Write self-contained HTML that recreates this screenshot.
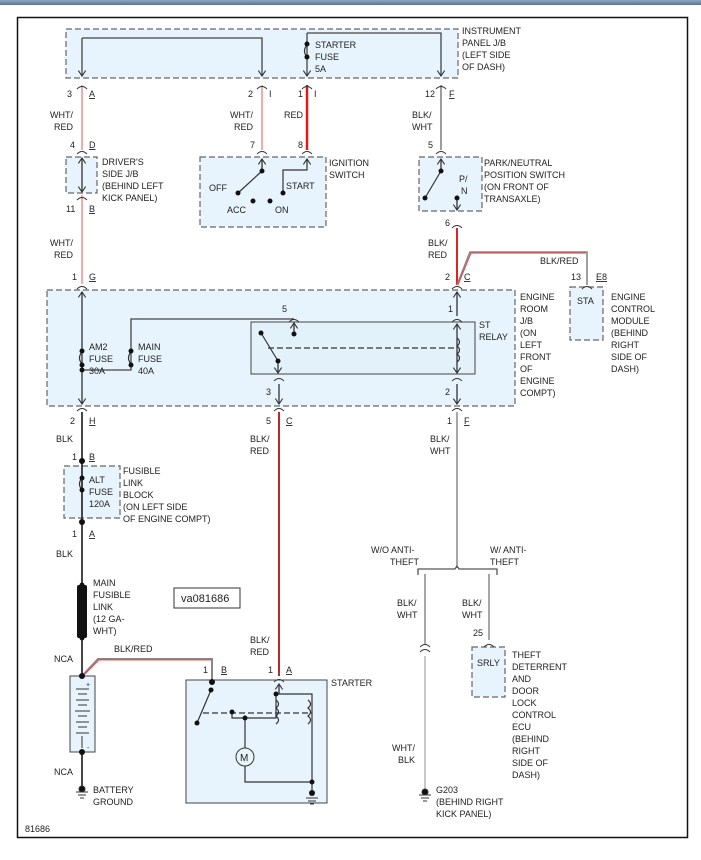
<!DOCTYPE html>
<html><head><style>
body{margin:0;background:#fff;}
svg{display:block;font-family:"Liberation Sans",sans-serif;}
text{font-size:9px;fill:#222;}
</style></head><body>
<svg width="701" height="860" viewBox="0 0 701 860" xmlns="http://www.w3.org/2000/svg">
<defs>
<linearGradient id="tb" x1="0" y1="0" x2="0" y2="1"><stop offset="0" stop-color="#8fa6c4"/><stop offset="1" stop-color="#5a7294"/></linearGradient>
<marker id="ar" viewBox="0 0 10 10" refX="9" refY="5" markerWidth="7" markerHeight="7" orient="auto-start-reverse"><path d="M3,1 L9,5 L3,9" fill="none" stroke="#333" stroke-width="1.2"/></marker>
</defs>
<rect x="0" y="0" width="701" height="5" fill="url(#tb)"/>
<rect x="17.5" y="17.5" width="670" height="820" fill="#fff" stroke="#111" stroke-width="1.5"/>
<g fill="#e8f4fd" stroke="#666" stroke-dasharray="6,3" stroke-width="1.2">
<rect x="66" y="29" width="392" height="49"/>
<rect x="66" y="157" width="31" height="36"/>
<rect x="200" y="157" width="126" height="70"/>
<rect x="419" y="157" width="63" height="54"/>
<rect x="47" y="290" width="468" height="116"/>
<rect x="570" y="287" width="33" height="53"/>
<rect x="64" y="466" width="56" height="52"/>
<rect x="472" y="647" width="33" height="50"/>
</g>
<rect x="251" y="322" width="224" height="52" fill="#e3f1fb" stroke="#444" stroke-width="1"/>
<rect x="186" y="680" width="141" height="123" fill="#e8f4fd" stroke="#444" stroke-width="1"/>
<rect x="70" y="676" width="25" height="76" fill="#e8f4fd" stroke="#444" stroke-width="1"/>
<rect x="174" y="588" width="66" height="20" fill="#fff" stroke="#333"/>
<text x="181" y="602" style="font-size:11px">va081686</text>

<g fill="none" stroke-width="1.3">
<path d="M82,38 H262 V76" stroke="#444" marker-end="url(#ar)"/>
<path d="M82,38 V76" stroke="#444" marker-end="url(#ar)"/>
<path d="M307,33 H441 V76" stroke="#444" marker-end="url(#ar)"/>
<path d="M307,33 V76" stroke="#444" marker-end="url(#ar)"/>
<path d="M82,85 V150" stroke="#f4a0a0" stroke-width="1.8"/>
<path d="M262,85 V150" stroke="#f4a0a0" stroke-width="1.8"/>
<path d="M307,85 V150" stroke="#e0181e" stroke-width="2.5"/>
<path d="M441,85 V150" stroke="#666"/>
<path d="M82,195 V284" stroke="#f4a0a0" stroke-width="1.8"/>
<path d="M82,158 V192" stroke="#333" marker-start="url(#ar)" marker-end="url(#ar)"/>
<path d="M457,228 V285" stroke="#d22" stroke-width="2"/>
<path d="M457,285 L470,252 H587 V285" stroke="#888" stroke-width="1.6"/>
<path d="M458,285 L471,253 H586" stroke="#e33" stroke-width="0.9"/>
<path d="M82,292 V404" stroke="#333" marker-start="url(#ar)" marker-end="url(#ar)"/>
<path d="M82,370 H131 V319 H293 V318" stroke="#444"/>
<path d="M457,292 V316" stroke="#333" marker-start="url(#ar)"/>
<path d="M457,324 V373" stroke="#333" marker-start="url(#ar)" marker-end="url(#ar)"/>
<path d="M457,384 V404" stroke="#333" marker-end="url(#ar)"/>
<path d="M278,361 V373" stroke="#333" marker-end="url(#ar)"/>
<path d="M279,384 V404" stroke="#333" marker-end="url(#ar)"/>
<path d="M294,323 V334" stroke="#333" marker-start="url(#ar)"/>
<path d="M82,412 V585 M82,638 V676 M82,752 V786" stroke="#333" stroke-width="1.8"/>
<path d="M279,412 V676" stroke="#e0181e" stroke-width="2"/>
<path d="M279,412 V676" stroke="#555" stroke-width="0.6"/>
<path d="M457,412 V568" stroke="#777"/>
<path d="M418,575 V569 H455 L457,566 L459,569 H497 V575" stroke="#555"/>
<path d="M425,574 V644 M489,574 V640" stroke="#777"/>
<path d="M425,656 V790" stroke="#bbb" stroke-width="1.6"/>
<path d="M82,676 L98,659 H212 V680" stroke="#888" stroke-width="2"/>
<path d="M83,676 L99,660 H211" stroke="#e33" stroke-width="0.8"/>
<path d="M457,198 V210" stroke="#333" marker-end="url(#ar)"/>
<path d="M441,159 V171" stroke="#333" marker-start="url(#ar)"/>
<path d="M262,159 V171" stroke="#333" marker-start="url(#ar)"/>
<path d="M307,159 V163" stroke="#333" marker-start="url(#ar)"/>
<path d="M279,684 V694" stroke="#333" marker-start="url(#ar)"/>
</g>
<rect x="77" y="585" width="10" height="53" fill="#111" rx="2"/>
<g fill="none" stroke="#333" stroke-width="1.2">
<path d="M307,45 q-5,6 0,12"/>
<path d="M82,352 q-5,6 0,12 M131,352 q-5,6 0,12 M82,478 q-5,6 0,12"/>
<path d="M457,338 q5,4 0,8 q5,4 0,8 q5,4 0,8 M276,700 q5,4 0,8 q5,4 0,8 q5,4 0,8 M308,700 q5,4 0,8 q5,4 0,8 q5,4 0,8"/>
<path d="M262,171 L238,193 M307,163 V170 H283 V193 M441,171 L425,198"/>
<path d="M261,333 L278,361"/>
<path d="M268,348 H457" stroke-dasharray="6,3"/>
<path d="M211,690 L197,723 M232,712 V718 H276 V694 H312 V790 M245,718 V748 M245,766 V782 H312"/>
<path d="M203,713 H312" stroke-dasharray="6,3"/>
</g>
<circle cx="245" cy="757" r="9" fill="#e8f4fd" stroke="#333"/><text x="240" y="761" style="font-size:10px">M</text>
<g fill="#111">
<circle cx="307" cy="44" r="2.5"/><circle cx="307" cy="57" r="2.5"/>
<circle cx="82" cy="351" r="2.5"/><circle cx="82" cy="365" r="2.5"/><circle cx="82" cy="370" r="2.5"/><circle cx="131" cy="351" r="2.5"/><circle cx="131" cy="365" r="2.5"/>
<circle cx="238" cy="193" r="2.5"/><circle cx="262" cy="171" r="2.5"/><circle cx="283" cy="193" r="2.5"/><circle cx="253" cy="201" r="2.5"/><circle cx="270" cy="201" r="2.5"/>
<circle cx="441" cy="171" r="2.5"/><circle cx="425" cy="198" r="2.5"/><circle cx="457" cy="198" r="2.5"/>
<circle cx="261" cy="333" r="2.5"/><circle cx="278" cy="361" r="2.5"/><circle cx="294" cy="334" r="2.5"/>
<circle cx="82" cy="461" r="3"/><circle cx="82" cy="478" r="2.5"/><circle cx="82" cy="490" r="2.5"/><circle cx="82" cy="522" r="3"/>
<circle cx="82" cy="585" r="2.5"/><circle cx="82" cy="638" r="2.5"/><circle cx="82" cy="676" r="3"/><circle cx="82" cy="752" r="3"/>
<circle cx="212" cy="682" r="3"/><circle cx="211" cy="690" r="2.5"/><circle cx="197" cy="723" r="2.5"/><circle cx="232" cy="712" r="2.5"/>
<circle cx="276" cy="694" r="2.5"/><circle cx="245" cy="718" r="2.5"/><circle cx="312" cy="782" r="2.5"/><circle cx="312" cy="793" r="3"/>
</g>
<g stroke="#333" stroke-width="1"><path d="M76,689 H89 M78,694 H87 M76,700 H89 M78,705 H87 M75,711 H90 M78,716 H87 M76,722 H89 M78,727 H87 M76,733 H89 M82,736 V748"/></g>
<text x="86" y="687" style="font-size:7px">+</text><text x="87" y="750" style="font-size:7px">-</text>
<g stroke="#333" fill="#111"><circle cx="82" cy="789" r="3"/><path d="M76,792 H88 M78,795 H86 M80,798 H84"/><circle cx="425" cy="792" r="3"/><path d="M419,795 H431 M421,798 H429 M423,801 H427"/><path d="M306,798 H318 M308,801 H316 M310,804 H314"/></g>
<g fill="none" stroke="#333" stroke-width="1">
<path d="M77,89 q5,-5 10,0 M257,89 q5,-5 10,0 M302,89 q5,-5 10,0 M436,89 q5,-5 10,0 M77,154 q5,-5 10,0 M257,154 q5,-5 10,0 M302,154 q5,-5 10,0 M436,154 q5,-5 10,0 M77,200 q5,-5 10,0 M452,228 q5,-5 10,0 M77,289 q5,-5 10,0 M452,289 q5,-5 10,0 M582,289 q5,-5 10,0 M289,322 q5,-5 10,0 M452,322 q5,-5 10,0 M274,381 q5,-5 10,0 M452,381 q5,-5 10,0 M77,411 q5,-5 10,0 M274,411 q5,-5 10,0 M452,411 q5,-5 10,0 M274,682 q5,-5 10,0 M420,647 q5,-5 10,0 M420,652 q5,-5 10,0 M484,647 q5,-5 10,0"/>
</g>
<text x="462" y="34">INSTRUMENT</text><text x="462" y="46">PANEL J/B</text><text x="462" y="58">(LEFT SIDE</text><text x="462" y="70">OF DASH)</text>
<text x="315" y="48">STARTER</text><text x="315" y="60">FUSE</text><text x="315" y="72">5A</text>
<text x="67" y="97">3</text><text x="89" y="97" text-decoration="underline">A</text>
<text x="248" y="97">2</text><text x="269" y="97">I</text>
<text x="298" y="97">1</text><text x="314" y="97">I</text>
<text x="425" y="97">12</text><text x="449" y="97" text-decoration="underline">F</text>
<text x="50" y="118">WHT/</text><text x="54" y="130">RED</text>
<text x="230" y="118">WHT/</text><text x="234" y="130">RED</text>
<text x="284" y="118">RED</text>
<text x="412" y="118">BLK/</text><text x="412" y="130">WHT</text>
<text x="70" y="148">4</text><text x="89" y="148" text-decoration="underline">D</text>
<text x="250" y="148">7</text><text x="298" y="148">8</text><text x="428" y="148">5</text>
<text x="102" y="165">DRIVER'S</text><text x="102" y="177">SIDE J/B</text><text x="102" y="189">(BEHIND LEFT</text><text x="102" y="201">KICK PANEL)</text>
<text x="66" y="212">11</text><text x="89" y="212" text-decoration="underline">B</text>
<text x="329" y="166">IGNITION</text><text x="329" y="178">SWITCH</text>
<text x="209" y="191">OFF</text><text x="286" y="189">START</text><text x="227" y="213">ACC</text><text x="275" y="213">ON</text>
<text x="484" y="166">PARK/NEUTRAL</text><text x="484" y="178">POSITION SWITCH</text><text x="484" y="190">(ON FRONT OF</text><text x="484" y="202">TRANSAXLE)</text>
<text x="459" y="182">P/</text><text x="461" y="194">N</text>
<text x="445" y="226">6</text>
<text x="50" y="246">WHT/</text><text x="54" y="258">RED</text>
<text x="428" y="246">BLK/</text><text x="428" y="258">RED</text>
<text x="540" y="264">BLK/RED</text>
<text x="72" y="280">1</text><text x="89" y="280" text-decoration="underline">G</text>
<text x="445" y="280">2</text><text x="464" y="280" text-decoration="underline">C</text>
<text x="571" y="280">13</text><text x="596" y="280" text-decoration="underline">E8</text>
<text x="577" y="304">STA</text>
<text x="520" y="300">ENGINE</text><text x="520" y="312">ROOM</text><text x="520" y="324">J/B</text><text x="520" y="336">(ON</text><text x="520" y="348">LEFT</text><text x="520" y="360">FRONT</text><text x="520" y="372">OF</text><text x="520" y="384">ENGINE</text><text x="520" y="396">COMPT)</text>
<text x="611" y="300">ENGINE</text><text x="611" y="312">CONTROL</text><text x="611" y="324">MODULE</text><text x="611" y="336">(BEHIND</text><text x="611" y="348">RIGHT</text><text x="611" y="360">SIDE OF</text><text x="611" y="372">DASH)</text>
<text x="282" y="312">5</text><text x="448" y="312">1</text>
<text x="479" y="328">ST</text><text x="479" y="340">RELAY</text>
<text x="89" y="350">AM2</text><text x="89" y="362">FUSE</text><text x="89" y="374">30A</text>
<text x="138" y="350">MAIN</text><text x="138" y="362">FUSE</text><text x="138" y="374">40A</text>
<text x="266" y="395">3</text><text x="445" y="395">2</text>
<text x="70" y="424">2</text><text x="89" y="424" text-decoration="underline">H</text>
<text x="266" y="424">5</text><text x="286" y="424" text-decoration="underline">C</text>
<text x="447" y="424">1</text><text x="464" y="424" text-decoration="underline">F</text>
<text x="56" y="442">BLK</text>
<text x="250" y="442">BLK/</text><text x="250" y="454">RED</text>
<text x="430" y="442">BLK/</text><text x="430" y="454">WHT</text>
<text x="72" y="460">1</text><text x="89" y="460" text-decoration="underline">B</text>
<text x="123" y="474">FUSIBLE</text><text x="123" y="486">LINK</text><text x="123" y="498">BLOCK</text><text x="123" y="510">(ON LEFT SIDE</text><text x="123" y="522">OF ENGINE COMPT)</text>
<text x="89" y="483">ALT</text><text x="89" y="495">FUSE</text><text x="89" y="507">120A</text>
<text x="72" y="537">1</text><text x="89" y="537" text-decoration="underline">A</text>
<text x="56" y="557">BLK</text>
<text x="371" y="553">W/O ANTI-</text><text x="390" y="565">THEFT</text>
<text x="490" y="553">W/ ANTI-</text><text x="490" y="565">THEFT</text>
<text x="93" y="586">MAIN</text><text x="93" y="598">FUSIBLE</text><text x="93" y="610">LINK</text><text x="93" y="622">(12 GA-</text><text x="93" y="634">WHT)</text>
<text x="397" y="606">BLK/</text><text x="397" y="618">WHT</text>
<text x="462" y="606">BLK/</text><text x="462" y="618">WHT</text>
<text x="250" y="643">BLK/</text><text x="250" y="655">RED</text>
<text x="473" y="636">25</text>
<text x="114" y="652">BLK/RED</text>
<text x="54" y="662">NCA</text>
<text x="203" y="673">1</text><text x="221" y="673" text-decoration="underline">B</text>
<text x="268" y="673">1</text><text x="286" y="673" text-decoration="underline">A</text>
<text x="477" y="666">SRLY</text>
<text x="512" y="658">THEFT</text><text x="512" y="670">DETERRENT</text><text x="512" y="682">AND</text><text x="512" y="694">DOOR</text><text x="512" y="706">LOCK</text><text x="512" y="718">CONTROL</text><text x="512" y="730">ECU</text><text x="512" y="742">(BEHIND</text><text x="512" y="754">RIGHT</text><text x="512" y="766">SIDE OF</text><text x="512" y="778">DASH)</text>
<text x="331" y="686">STARTER</text>
<text x="392" y="751">WHT/</text><text x="398" y="763">BLK</text>
<text x="54" y="775">NCA</text>
<text x="93" y="793">BATTERY</text><text x="93" y="805">GROUND</text>
<text x="436" y="793">G203</text><text x="436" y="805">(BEHIND RIGHT</text><text x="436" y="817">KICK PANEL)</text>
<text x="25" y="832">81686</text>
</svg>
</body></html>
